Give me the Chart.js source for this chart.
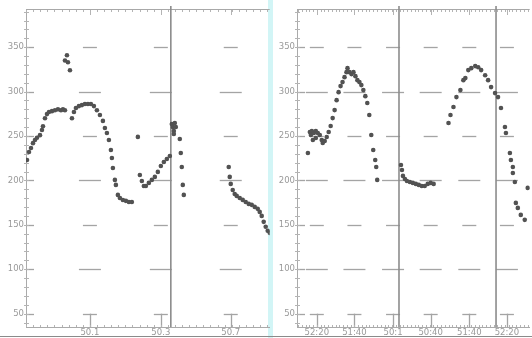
<!DOCTYPE html>
<html>
<head>
<meta charset="utf-8">
<script src="https://cdn.jsdelivr.net/npm/chart.js@4/dist/chart.umd.min.js"></script>
<style>
html, body { margin: 0; padding: 0; background: #fff; }
#wrap { position: relative; width: 532px; height: 338px; overflow: hidden; }
.panel { position: absolute; top: 0; height: 338px; }
#pl { left: 0; width: 272px; }
#pr { left: 275px; width: 257px; }
#sep { position: absolute; left: 268px; width: 5px; top: 0; height: 338px; background: #d2f5f6; }
#base { position: absolute; left: 0; right: 0; top: 336px; height: 1px; background: #8a8a8a; }
canvas { filter: blur(0.55px); }
</style>
</head>
<body>
<div id="wrap">
  <div id="sep"></div>
  <div class="panel" id="pl"><canvas id="cl" width="272" height="338"></canvas></div>
  <div class="panel" id="pr"><canvas id="cr" width="257" height="338"></canvas></div>
  <div id="base"></div>
</div>
<script>
const yTicks = [50, 100, 150, 200, 250, 300, 350];

const leftTickX = [64, 135, 205];
const leftTickLabels = ['50.1', '50.3', '50.7'];
const leftBreaks = [145];
const leftX = [
  1, 3, 5, 7, 9, 11, 14, 16, 17, 19, 21, 23, 26, 29, 32, 35, 37, 39,
  39, 41, 42, 44,
  46, 48, 50, 53, 56, 59, 62, 65, 68, 71, 74, 77, 79, 81, 83, 85, 86, 87, 89, 90, 92, 94, 97, 100, 103, 106,
  112,
  114, 116, 118, 120, 123, 126, 129, 132, 135, 138, 141, 144,
  146, 147, 149, 150, 148, 148,
  154, 155, 156, 157, 158,
  203, 204, 205, 207, 209, 211, 214, 217, 220, 223, 226, 229, 232, 234, 236, 238, 240, 242, 244
];
const leftY = [
  223, 232, 236.5, 242, 245.5, 248, 251, 256.7, 261, 270, 274.7, 277, 278, 279, 280, 279, 280, 279,
  335, 341, 333, 324,
  270, 277, 281.5, 283.7, 284.8, 286, 286, 286, 283.7, 279, 273.6, 267, 259, 253.4, 245.5, 234.3, 225.3, 214, 200.6, 195, 183.7, 180.3, 178, 177, 175.8, 175.8,
  249,
  206.2, 199.4, 193.8, 193.8, 197.2, 200.6, 204, 209.6, 216.3, 220.8, 224.1, 227.5,
  263.5, 260.1, 264.6, 260.1, 255.6, 252.3,
  246.6, 230.9, 215.2, 195, 183.7,
  215.2, 204, 196.1, 189.3, 184.8, 182.6, 180.3, 178.1, 175.8, 173.6, 172.5, 170.2, 168, 164.6, 160.1, 153.4, 147.8, 143.3, 141
];

const rightTickX = [20, 58, 97, 135, 174, 212];
const rightTickLabels = ['52:20', '51:40', '50:1', '50:40', '51:40', '52:20'];
const rightBreaks = [103, 201];
const rightX = [
  11, 13, 14, 15, 16, 17, 19, 19, 21, 23, 25, 26, 28, 30, 32, 34, 36, 38, 40, 42, 44, 46, 48, 50, 51,
  53, 55, 57, 59, 61, 63, 65, 67, 69, 71, 73, 75, 77, 79, 80, 81,
  105, 106, 107, 109, 111, 114, 117, 120, 123, 126, 129, 132, 135, 138,
  153, 155, 158, 161, 165, 168, 170, 173, 176, 180, 183, 186, 190, 193, 196, 200, 203, 206, 210, 211,
  215, 216, 218, 218, 220, 221, 223, 226, 230, 233
];
const rightY = [
  230.9, 254.5, 251.1, 255.6, 245.5, 253.4, 255.6, 247.8, 253.4, 251.1, 245.5, 242.1, 244.4, 248.9, 254.5, 261.2, 270.2, 279.2, 290.4, 299.4, 306.2, 310.7, 316.3, 321.9, 326.4,
  321.9, 319.7, 321.9, 317.4, 312.9, 310.7, 307.3, 301.7, 294.9, 287.1, 273.6, 251.1, 234.3, 223, 215.2, 200.6,
  217.4, 211.8, 205.1, 201.7, 199.4, 198.3, 197.2, 196.1, 195, 193.8, 193.8, 196.1, 197.2, 196.1,
  264.6, 273.6, 282.6, 293.8, 301.7, 312.9, 315.2, 324.2, 326.4, 328.7, 327.5, 324.2, 318.5, 312.9, 305.1, 298.3, 293.8, 281.5, 260.1, 253.4,
  230.9, 223, 215.2, 208.4, 198.3, 174.7, 169.1, 161.2, 155.6, 191.6
];

// décor : tirets de grille aux croisements, traits de coupure, petites graduations
const decor = {
  id: 'decor',
  beforeDatasetsDraw(chart, args, opts) {
    const { ctx, chartArea: a, scales: { x, y } } = chart;
    const seg = (x1, y1, x2, y2) => { ctx.beginPath(); ctx.moveTo(x1, y1); ctx.lineTo(x2, y2); ctx.stroke(); };
    ctx.save();

    ctx.strokeStyle = '#a4a4a4';
    ctx.lineWidth = 1.3;
    yTicks.forEach(v => {
      const py = Math.round(y.getPixelForValue(v)) + 0.5;
      const half = v % 100 === 0 ? 11 : 7;
      opts.tickX.forEach(t => {
        const px = x.getPixelForValue(t);
        seg(px - half, py, px + half, py);
      });
      seg(a.left, py, a.left + 8, py);
    });
    const py50 = y.getPixelForValue(50);
    opts.tickX.forEach(t => {
      const px = Math.round(x.getPixelForValue(t)) + 0.5;
      seg(px, a.bottom, px, py50);
    });

    // petites graduations
    ctx.lineWidth = 1;
    ctx.strokeStyle = '#b4b4b4';
    for (let v = 40; v <= 390; v += 10) {
      const py = Math.round(y.getPixelForValue(v)) + 0.5;
      seg(a.left - 2, py, a.left + 3, py);
    }
    const step = (opts.tickX[1] - opts.tickX[0]) / 10;
    let start = opts.tickX[0];
    while (start - step >= x.min) start -= step;
    for (let v = start; v <= x.max; v += step) {
      const px = Math.round(x.getPixelForValue(v)) + 0.5;
      seg(px, a.top, px, a.top + 3);
      seg(px, a.bottom, px, a.bottom - 2);
    }
    opts.tickX.forEach(t => {
      const px = Math.round(x.getPixelForValue(t)) + 0.5;
      seg(px, a.top, px, a.top + 6);
    });
    ctx.strokeStyle = '#a8a8a8';
    seg(a.left, a.top + 0.5, a.right, a.top + 0.5);

    // traits verticaux de coupure
    ctx.strokeStyle = '#8c8c8c';
    ctx.lineWidth = 1.6;
    opts.breaks.forEach(b => {
      const px = x.getPixelForValue(b);
      seg(px, a.top - 3, px, a.bottom);
    });
    ctx.restore();
  }
};

function makeChart(canvasId, xs, ys, xMax, tickX, tickLabels, breaks, yWidth, padRight) {
  const ctx = document.getElementById(canvasId).getContext('2d');
  return new Chart(ctx, {
    type: 'scatter',
    data: {
      datasets: [{
        data: xs.map((v, i) => ({ x: v, y: ys[i] })),
        backgroundColor: '#525252',
        borderWidth: 0,
        pointRadius: 2.3,
        pointHoverRadius: 2.3
      }]
    },
    options: {
      responsive: false,
      animation: false,
      events: [],
      layout: { padding: { top: 9, right: padRight, left: 0, bottom: 0 } },
      plugins: {
        legend: { display: false },
        tooltip: { enabled: false },
        decor: { tickX: tickX, breaks: breaks }
      },
      scales: {
        x: {
          type: 'linear',
          min: 0,
          max: xMax,
          afterBuildTicks: axis => { axis.ticks = tickX.map(v => ({ value: v })); },
          afterFit: axis => { axis.height = 11; },
          grid: { display: false, drawTicks: false },
          border: { color: '#aaaaaa', width: 1 },
          ticks: {
            autoSkip: false,
            maxRotation: 0,
            padding: 1,
            color: '#999999',
            font: { family: 'DejaVu Sans', size: 8.5 },
            callback: (v, i) => tickLabels[i]
          }
        },
        y: {
          min: 35,
          max: 393,
          afterBuildTicks: axis => { axis.ticks = yTicks.map(v => ({ value: v })); },
          afterFit: axis => { axis.width = yWidth; },
          grid: { display: false, drawTicks: false },
          border: { color: '#aaaaaa', width: 1 },
          ticks: {
            padding: 2,
            color: '#999999',
            font: { family: 'DejaVu Sans', size: 8.5 }
          }
        }
      }
    },
    plugins: [decor]
  });
}

makeChart('cl', leftX, leftY, 244, leftTickX, leftTickLabels, leftBreaks, 26, 2);
makeChart('cr', rightX, rightY, 235, rightTickX, rightTickLabels, rightBreaks, 22, 0);
</script>
</body>
</html>
